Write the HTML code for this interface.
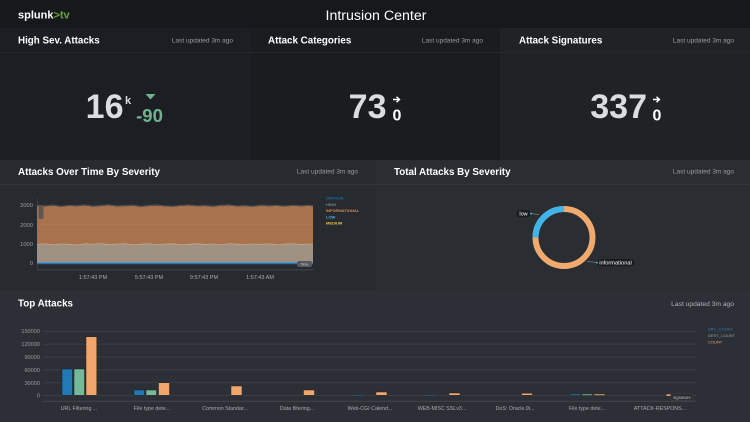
<!DOCTYPE html>
<html>
<head>
<meta charset="utf-8">
<style>
html,body{margin:0;padding:0;background:#17191c;}
body{width:750px;height:422px;overflow:hidden;position:relative;font-family:"Liberation Sans",Arial,sans-serif;}
svg{position:absolute;left:0;top:0;display:block;}
</style>
</head>
<body>
<svg width="750" height="422" viewBox="0 0 750 422" xmlns="http://www.w3.org/2000/svg" font-family="Liberation Sans, Arial, sans-serif">
  <!-- backgrounds -->
  <rect x="0" y="0" width="750" height="28" fill="#16181b"/>
  <rect x="0" y="28" width="250" height="132" fill="#1c1e23"/>
  <rect x="250" y="28" width="250" height="132" fill="#1a1c20"/>
  <rect x="500" y="28" width="250" height="132" fill="#202226"/>
  <rect x="0" y="160" width="376" height="131" fill="#272a2f"/>
  <rect x="376" y="160" width="374" height="131" fill="#2a2d31"/>
  <rect x="0" y="291" width="750" height="131" fill="#2c2f35"/>
  <!-- header separators -->
  <rect x="0" y="52" width="750" height="1" fill="#25272c"/>
  <rect x="0" y="184" width="750" height="1" fill="#31343a"/>

  <!-- top header -->
  <text x="18" y="18.5" font-size="11" font-weight="bold" fill="#ffffff">splunk<tspan fill="#65a637">&gt;tv</tspan></text>
  <text x="376" y="20" font-size="14.2" fill="#ffffff" text-anchor="middle">Intrusion Center</text>

  <!-- row 1 titles -->
  <text x="18" y="43.5" font-size="9.8" font-weight="bold" fill="#ffffff">High Sev. Attacks</text>
  <text x="233" y="42.3" font-size="6.5" fill="#9a9ca0" text-anchor="end">Last updated 3m ago</text>
  <text x="268" y="43.5" font-size="9.8" font-weight="bold" fill="#ffffff">Attack Categories</text>
  <text x="483" y="42.3" font-size="6.5" fill="#9a9ca0" text-anchor="end">Last updated 3m ago</text>
  <text x="519" y="43.5" font-size="9.8" font-weight="bold" fill="#ffffff">Attack Signatures</text>
  <text x="734" y="42.3" font-size="6.5" fill="#9a9ca0" text-anchor="end">Last updated 3m ago</text>

  <!-- KPI 1 -->
  <text x="123.5" y="118" font-size="34" font-weight="bold" fill="#dcdde0" text-anchor="end">16</text>
  <text x="125" y="104" font-size="11" font-weight="bold" fill="#dcdde0">k</text>
  <polygon points="145.5,94 155.5,94 150.5,99.5" fill="#6fb38f"/>
  <text x="149.5" y="122" font-size="18.5" font-weight="bold" fill="#6fb38f" text-anchor="middle">-90</text>

  <!-- KPI 2 -->
  <text x="386.5" y="118" font-size="34" font-weight="bold" fill="#dcdde0" text-anchor="end">73</text>
  <path d="M393 99.5 H399.3 M396.5 96.8 L399.5 99.5 L396.5 102.2" stroke="#ffffff" stroke-width="1.4" fill="none"/>
  <text x="397" y="120.5" font-size="16" font-weight="bold" fill="#ffffff" text-anchor="middle">0</text>

  <!-- KPI 3 -->
  <text x="647" y="118" font-size="34" font-weight="bold" fill="#dcdde0" text-anchor="end">337</text>
  <path d="M653 99.5 H659.3 M656.5 96.8 L659.5 99.5 L656.5 102.2" stroke="#ffffff" stroke-width="1.4" fill="none"/>
  <text x="657" y="120.5" font-size="16" font-weight="bold" fill="#ffffff" text-anchor="middle">0</text>

  <!-- row 2 titles -->
  <text x="18" y="174.8" font-size="9.8" font-weight="bold" fill="#ffffff">Attacks Over Time By Severity</text>
  <text x="358" y="173.5" font-size="6.5" fill="#9a9ca0" text-anchor="end">Last updated 3m ago</text>
  <text x="394" y="174.8" font-size="9.8" font-weight="bold" fill="#ffffff">Total Attacks By Severity</text>
  <text x="734" y="173.5" font-size="6.5" fill="#9a9ca0" text-anchor="end">Last updated 3m ago</text>

  <!-- area chart -->
  <g font-size="5.8" fill="#9a9ca0" text-anchor="end">
    <text x="33" y="207">3000</text>
    <text x="33" y="227">2000</text>
    <text x="33" y="246">1000</text>
    <text x="33" y="265">0</text>
  </g>
  <rect x="37" y="198" width="0.8" height="72" fill="#3c3f45"/>
  <path d="M37 205.8 L45 206.4 L53 205.6 L61 206.8 L69 205.9 L77 206.2 L85 205.5 L93 206.7 L101 206 L109 205.4 L117 206.5 L125 206.1 L133 205.7 L141 206.9 L149 206 L157 205.6 L165 206.4 L173 206.8 L181 205.9 L189 205.5 L197 206.3 L205 206 L213 206.7 L221 205.8 L229 205.5 L237 206.4 L245 206.1 L253 206.8 L261 205.7 L269 206.2 L277 205.9 L285 206.6 L293 205.8 L301 206.3 L309 205.9 L313 206.2 L313 244.3 L309 244 L301 244.5 L293 243.6 L285 244.1 L277 244.9 L269 243.8 L261 244.4 L253 243.9 L245 244.7 L237 244.2 L229 243.6 L221 244.9 L213 244 L205 244.5 L197 243.7 L189 244.3 L181 244.8 L173 243.8 L165 244 L157 244.6 L149 243.6 L141 244.2 L133 244.9 L125 243.7 L117 244.1 L109 244.7 L101 243.5 L93 244.4 L85 243.8 L77 245 L69 244.3 L61 243.9 L53 244.8 L45 243.6 L37 244.5 Z" fill="#a9724f"/>
  <path d="M37 244.5 L45 243.6 L53 244.8 L61 243.9 L69 244.3 L77 245 L85 243.8 L93 244.4 L101 243.5 L109 244.7 L117 244.1 L125 243.7 L133 244.9 L141 244.2 L149 243.6 L157 244.6 L165 244 L173 243.8 L181 244.8 L189 244.3 L197 243.7 L205 244.5 L213 244 L221 244.9 L229 243.6 L237 244.2 L245 244.7 L253 243.9 L261 244.4 L269 243.8 L277 244.9 L285 244.1 L293 243.6 L301 244.5 L309 244 L313 244.3 L313 263 L37 263 Z" fill="#9f9282"/>
  <path d="M37 244.5 L45 243.6 L53 244.8 L61 243.9 L69 244.3 L77 245 L85 243.8 L93 244.4 L101 243.5 L109 244.7 L117 244.1 L125 243.7 L133 244.9 L141 244.2 L149 243.6 L157 244.6 L165 244 L173 243.8 L181 244.8 L189 244.3 L197 243.7 L205 244.5 L213 244 L221 244.9 L229 243.6 L237 244.2 L245 244.7 L253 243.9 L261 244.4 L269 243.8 L277 244.9 L285 244.1 L293 243.6 L301 244.5 L309 244 L313 244.3" stroke="#c7a585" stroke-width="0.8" fill="none"/>
  <path d="M37 205.8 L45 206.4 L53 205.6 L61 206.8 L69 205.9 L77 206.2 L85 205.5 L93 206.7 L101 206 L109 205.4 L117 206.5 L125 206.1 L133 205.7 L141 206.9 L149 206 L157 205.6 L165 206.4 L173 206.8 L181 205.9 L189 205.5 L197 206.3 L205 206 L213 206.7 L221 205.8 L229 205.5 L237 206.4 L245 206.1 L253 206.8 L261 205.7 L269 206.2 L277 205.9 L285 206.6 L293 205.8 L301 206.3 L309 205.9 L313 206.2" stroke="#4a4d52" stroke-width="1.2" fill="none" transform="translate(0,-0.6)"/>
  <rect x="37" y="224.5" width="276" height="0.6" fill="#b88060" opacity="0.6"/>
  <rect x="37" y="262.2" width="276" height="1.3" fill="#3a9ad9"/>
  <rect x="37" y="263.5" width="276" height="1" fill="#2c4d63"/>
  <rect x="37" y="269.5" width="277" height="0.8" fill="#4a4d53"/>
  <rect x="38.5" y="205" width="5" height="14" rx="1.5" fill="#55514d" opacity="0.85"/>
  <rect x="297" y="261" width="15" height="6" rx="2" fill="#55585d"/>
  <text x="304.5" y="265.6" font-size="3.6" fill="#c8c9cb" text-anchor="middle">Time</text>
  <g font-size="5.5" fill="#a9abae" text-anchor="middle">
    <text x="93" y="279">1:57:43 PM</text>
    <text x="149" y="279">5:57:43 PM</text>
    <text x="204" y="279">9:57:43 PM</text>
    <text x="260" y="279">1:57:43 AM</text>
  </g>
  <g font-size="4" font-weight="bold">
    <text x="326" y="199.5" fill="#1e6fa8">CRITICAL</text>
    <text x="326" y="205.8" fill="#6e8a7c">HIGH</text>
    <text x="326" y="212" fill="#d88a4f">INFORMATIONAL</text>
    <text x="326" y="218.3" fill="#4fb3e6">LOW</text>
    <text x="326" y="224.6" fill="#e3c34f">MEDIUM</text>
  </g>

  <!-- donut -->
  <circle cx="564" cy="237.5" r="28.5" stroke="#f0a96e" stroke-width="6" fill="none"/>
  <path d="M564 209 A28.5 28.5 0 0 0 535.5 237.5" stroke="#3db4ea" stroke-width="6" fill="none"/>
  <path d="M530 213.5 L539 214.5" stroke="#7a7c80" stroke-width="0.7" fill="none"/>
  <rect x="516.5" y="210" width="14" height="7.2" rx="3.6" fill="#1a1b1e"/>
  <circle cx="531" cy="213.6" r="1" fill="#3db4ea"/>
  <text x="523.5" y="215.6" font-size="5.5" fill="#ffffff" text-anchor="middle">low</text>
  <path d="M587 261.5 L597 262.5" stroke="#7a7c80" stroke-width="0.7" fill="none"/>
  <rect x="596.5" y="259" width="38" height="7.2" rx="3.6" fill="#1a1b1e"/>
  <circle cx="597" cy="262.6" r="1" fill="#3db4ea"/>
  <text x="615.5" y="264.6" font-size="5.7" fill="#ffffff" text-anchor="middle">informational</text>

  <!-- row 3 -->
  <text x="18" y="306.5" font-size="9.8" font-weight="bold" fill="#ffffff">Top Attacks</text>
  <text x="734" y="305.8" font-size="6.7" fill="#b0b2b5" text-anchor="end">Last updated 3m ago</text>

  <!-- bar chart grid -->
  <g fill="#3f4249">
    <rect x="43" y="330.8" width="653" height="0.8"/>
    <rect x="43" y="343.7" width="653" height="0.8"/>
    <rect x="43" y="356.6" width="653" height="0.8"/>
    <rect x="43" y="369.5" width="653" height="0.8"/>
    <rect x="43" y="382.4" width="653" height="0.8"/>
    <rect x="43" y="395.1" width="653" height="0.8"/>
  </g>
  <rect x="43" y="400.8" width="653" height="0.8" fill="#4a4d54"/>
  <g font-size="5.6" fill="#9a9ca0" text-anchor="end">
    <text x="40" y="333">150000</text>
    <text x="40" y="346">120000</text>
    <text x="40" y="359">90000</text>
    <text x="40" y="372">60000</text>
    <text x="40" y="385">30000</text>
    <text x="40" y="397.5">0</text>
  </g>
  <g stroke="#1f2126" stroke-width="0.5">
    <rect x="62" y="369" width="10.5" height="26.3" fill="#2179b5"/>
    <rect x="74" y="369" width="10.5" height="26.3" fill="#74b99a"/>
    <rect x="86" y="336.7" width="10.8" height="58.6" fill="#f2a66c"/>
    <rect x="134" y="390" width="10.5" height="5.3" fill="#2179b5"/>
    <rect x="146" y="390" width="10.5" height="5.3" fill="#74b99a"/>
    <rect x="158.5" y="382.7" width="11" height="12.6" fill="#f2a66c"/>
    <rect x="231" y="386" width="11" height="9.3" fill="#f2a66c"/>
    <rect x="303.5" y="390" width="11" height="5.3" fill="#f2a66c"/>
    <rect x="376" y="392" width="11" height="3.3" fill="#f2a66c"/>
    <rect x="449" y="393" width="11" height="2.3" fill="#f2a66c"/>
    <rect x="521.5" y="393.3" width="11" height="2" fill="#f2a66c"/>
    <rect x="570" y="394" width="10.5" height="1.5" fill="#2179b5"/>
    <rect x="582" y="394" width="10.5" height="1.5" fill="#74b99a"/>
    <rect x="594" y="394" width="11" height="1.5" fill="#f2a66c"/>
  </g>
  <rect x="353" y="395" width="10" height="0.8" fill="#1d5a85"/>
  <rect x="425" y="395" width="10" height="0.8" fill="#1d5a85"/>
  <rect x="666.5" y="394.3" width="4" height="1.6" fill="#f2a66c"/>
  <rect x="671" y="393.5" width="22" height="7" rx="1.5" fill="#2a2c31" stroke="#4a4d53" stroke-width="0.4"/>
  <text x="682" y="398.8" font-size="4.3" fill="#b8babd" text-anchor="middle">signature</text>
  <g font-size="5.3" fill="#a9abae" text-anchor="middle">
    <text x="79" y="410">URL Filtering ...</text>
    <text x="152" y="410">File type dete...</text>
    <text x="225" y="410">Common Standar...</text>
    <text x="297" y="410">Data filtering...</text>
    <text x="370" y="410">Web-CGI Calend...</text>
    <text x="442" y="410">WEB-MISC SSLv3...</text>
    <text x="515" y="410">DoS: Oracle.9i...</text>
    <text x="587" y="410">File type dete...</text>
    <text x="660" y="410">ATTACK-RESPONS...</text>
  </g>
  <g font-size="4">
    <text x="708" y="330.5" fill="#2a7fbf">SRC_COUNT</text>
    <text x="708" y="337" fill="#8fa8a0">DEST_COUNT</text>
    <text x="708" y="343.5" fill="#f2a66c">COUNT</text>
  </g>
</svg>
</body>
</html>
